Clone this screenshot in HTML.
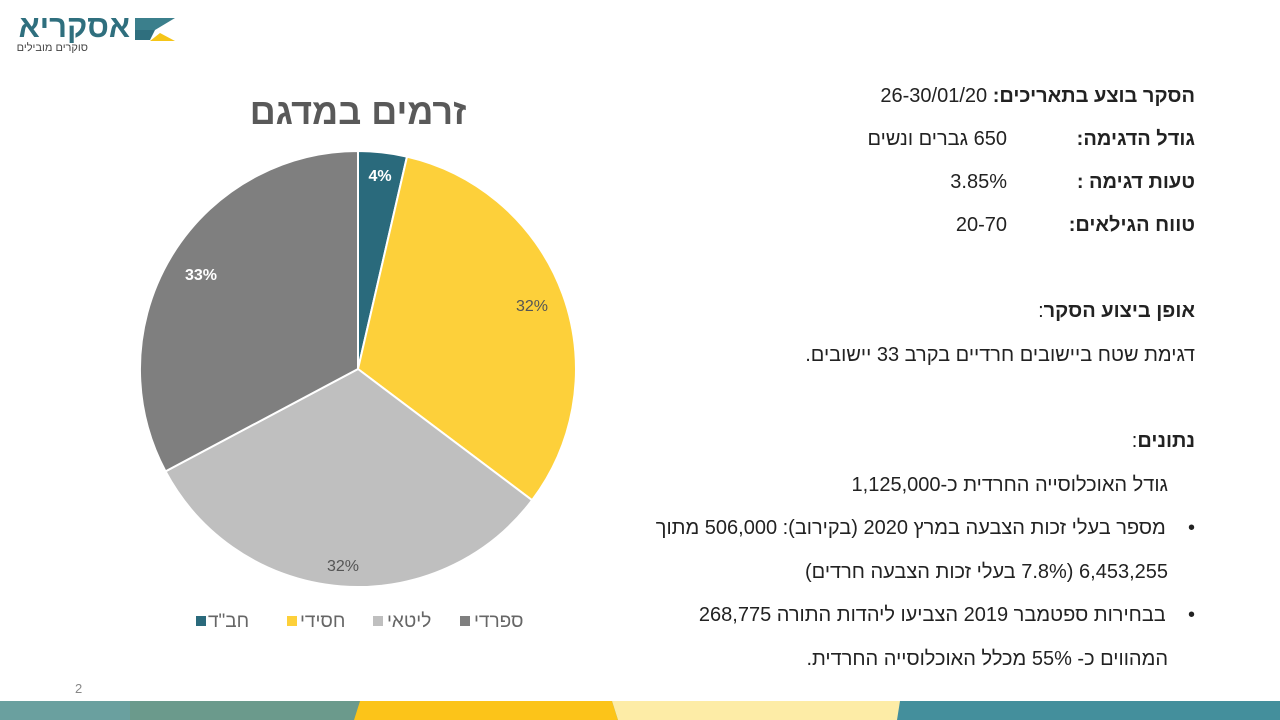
<!DOCTYPE html>
<html><head><meta charset="utf-8"><style>
body{margin:0;width:1280px;height:720px;position:relative;background:#fff;overflow:hidden;font-family:"Liberation Sans","Noto Sans CJK SC",sans-serif;color:#222}
.t{position:absolute;white-space:nowrap;direction:rtl;font-size:20px}
.b{font-weight:bold}
</style></head><body>
<svg width="1280" height="720" style="position:absolute;left:0;top:0">
<polygon points="135,18 175,18 155,30 135,30" fill="#3b7f8c"/>
<polygon points="135,30 155,30 150,40 135,40" fill="#2f6f7e"/>
<polygon points="160,33 175,41 150,41" fill="#f5c518"/>
<g stroke="#fff" stroke-width="2">
<path d="M358,369 L358,151 A218,218 0 0 1 407,156.6 Z" fill="#2a6a7c"/>
<path d="M358,369 L407,156.6 A218,218 0 0 1 532.1,500.2 Z" fill="#fdd03a"/>
<path d="M358,369 L532.1,500.2 A218,218 0 0 1 165.5,471.4 Z" fill="#bfbfbf"/>
<path d="M358,369 L165.5,471.4 A218,218 0 0 1 358,151 Z" fill="#7f7f7f"/>
</g>
<g font-family="Liberation Sans, sans-serif" font-size="16" text-anchor="middle">
<text x="380" y="181" fill="#fff" font-weight="bold">4%</text>
<text x="532" y="311" fill="#555">32%</text>
<text x="343" y="571" fill="#555">32%</text>
<text x="201" y="280" fill="#fff" font-weight="bold">33%</text>
</g>
<rect x="196" y="616" width="10" height="10" fill="#2a6a7c"/>
<rect x="287" y="616" width="10" height="10" fill="#fdd03a"/>
<rect x="373" y="616" width="10" height="10" fill="#bfbfbf"/>
<rect x="460" y="616" width="10" height="10" fill="#7f7f7f"/>
<text x="358" y="124" font-size="36" font-weight="bold" fill="#595959" text-anchor="middle" font-family="Liberation Sans, Noto Sans CJK SC, sans-serif">זרמים במדגם</text>
<text x="75" y="693" font-size="13" fill="#888" font-family="Liberation Sans, sans-serif">2</text>
<rect x="0" y="701" width="1280" height="19" fill="#448f9c"/>
<rect x="0" y="701" width="135" height="19" fill="#6aa09f"/>
<polygon points="130,701 360,701 354,720 130,720" fill="#6b9a8c"/>
<polygon points="360,701 612,701 618,720 354,720" fill="#fcc419"/>
<polygon points="612,701 900,701 897,720 618,720" fill="#fdeca6"/>
</svg>
<div class="t b" style="right:1150px;top:9px;font-size:31px;color:#2f6f7e">אסקריא</div>
<div class="t" style="right:1192px;top:42px;font-size:11px;color:#444">סוקרים מובילים</div>
<div class="t" style="left:208px;top:611px;font-size:19px;color:#666">חב"ד</div>
<div class="t" style="left:300px;top:611px;font-size:19px;color:#666">חסידי</div>
<div class="t" style="left:387px;top:611px;font-size:19px;color:#666">ליטאי</div>
<div class="t" style="left:474px;top:611px;font-size:19px;color:#666">ספרדי</div>
<div class="t b" style="right:85px;top:85px">הסקר בוצע בתאריכים:<span style="font-weight:normal"> 26-30/01/20</span></div>
<div class="t b" style="right:85px;top:128px">גודל הדגימה:</div>
<div class="t" style="right:273px;top:128px">650 גברים ונשים</div>
<div class="t b" style="right:85px;top:171px">טעות דגימה :</div>
<div class="t" style="right:273px;top:171px">3.85%</div>
<div class="t b" style="right:85px;top:214px">טווח הגילאים:</div>
<div class="t" style="right:273px;top:214px">20-70</div>
<div class="t b" style="right:85px;top:300px">אופן ביצוע הסקר<span style="font-weight:normal">:</span></div>
<div class="t" style="right:85px;top:344px">דגימת שטח ביישובים חרדיים בקרב 33 יישובים.</div>
<div class="t b" style="right:85px;top:430px">נתונים<span style="font-weight:normal">:</span></div>
<div class="t" style="right:112px;top:474px">גודל האוכלוסייה החרדית כ-1,125,000</div>
<div class="t" style="right:85px;top:517px">•&nbsp;&nbsp;&nbsp;&nbsp;מספר בעלי זכות הצבעה במרץ 2020 (בקירוב): 506,000 מתוך</div>
<div class="t" style="right:112px;top:561px">6,453,255 (7.8% בעלי זכות הצבעה חרדים)</div>
<div class="t" style="right:85px;top:604px">•&nbsp;&nbsp;&nbsp;&nbsp;בבחירות ספטמבר 2019 הצביעו ליהדות התורה 268,775</div>
<div class="t" style="right:112px;top:648px">המהווים כ- 55% מכלל האוכלוסייה החרדית.</div>
</body></html>
